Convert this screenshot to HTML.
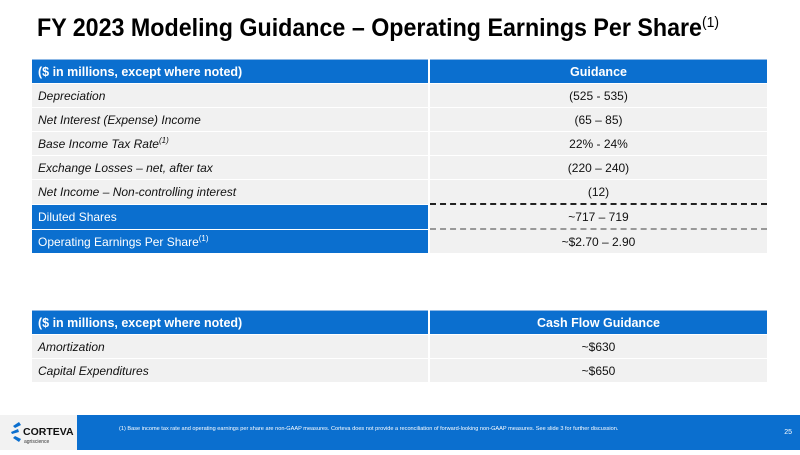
<!DOCTYPE html>
<html><head><meta charset="utf-8"><style>
body{margin:0;width:800px;height:450px;background:#fff;position:relative;overflow:hidden;font-family:"Liberation Sans",Arial,sans-serif;}
.title{position:absolute;left:37px;top:14px;font-weight:bold;font-size:25px;color:#000;white-space:nowrap;transform:scaleX(0.93);transform-origin:0 0;}
.title sup{font-weight:normal;font-size:15px;vertical-align:9px}
table{position:absolute;left:32px;border-collapse:collapse;width:735px;font-size:12px}
td{height:23px;padding:0 0 0 6px;border-bottom:1px solid #fff;background:#f1f1f1;color:#111}
td.c2{text-align:center;padding:0;width:337px;border-left:2px solid #fff}
td.l{font-style:italic}
tr.h td{background:#0b6fcf;color:#fff;font-weight:bold;font-size:12.5px;border-top:1px solid #8fb9e6}
tr.b td.c1{background:#0b6fcf;color:#fff}
tr.b td.c2{background:#f1f1f1}
sup.s{font-size:8px;vertical-align:5px}
.foot{position:absolute;left:77px;top:415px;width:723px;height:35px;background:#0b6fcf;color:#fff}
.logo{position:absolute;left:0;top:415px;width:77px;height:35px;background:#f2f2f2}
</style></head><body>
<div class="title">FY 2023 Modeling Guidance – Operating Earnings Per Share<sup>(1)</sup></div>
<table style="top:59px">
<tr class="h"><td>($ in millions, except where noted)</td><td class="c2">Guidance</td></tr>
<tr><td class="l">Depreciation</td><td class="c2">(525 - 535)</td></tr>
<tr><td class="l">Net Interest (Expense) Income</td><td class="c2">(65 – 85)</td></tr>
<tr><td class="l">Base Income Tax Rate<sup class="s">(1)</sup></td><td class="c2">22% - 24%</td></tr>
<tr><td class="l">Exchange Losses – net, after tax</td><td class="c2">(220 – 240)</td></tr>
<tr><td class="l">Net Income – Non-controlling interest</td><td class="c2" style="border-bottom:2px dashed #222">(12)</td></tr>
<tr class="b"><td class="c1">Diluted Shares</td><td class="c2" style="border-bottom:2px dashed #999">~717 – 719</td></tr>
<tr class="b"><td class="c1">Operating Earnings Per Share<sup class="s">(1)</sup></td><td class="c2">~$2.70 – 2.90</td></tr>
</table>
<table style="top:310px">
<tr class="h"><td>($ in millions, except where noted)</td><td class="c2">Cash Flow Guidance</td></tr>
<tr><td class="l">Amortization</td><td class="c2">~$630</td></tr>
<tr><td class="l">Capital Expenditures</td><td class="c2">~$650</td></tr>
</table>
<div class="logo">
<svg width="77" height="35"><g fill="#0b6fcf"><path d="M13 11 l6 -4 l2 3 l-6 3z"/><path d="M11 17 l7 -3 l1 3 l-7 2z"/><path d="M13 23 l6 4 l2 -3 l-6 -3z"/></g>
<text x="23" y="20" font-family="Liberation Sans" font-weight="bold" font-size="10.5" fill="#111">CORTEVA</text>
<text x="24" y="28" font-family="Liberation Sans" font-size="5" fill="#333">agriscience</text></svg>
</div>
<div class="foot"><div style="position:absolute;left:42px;top:11px;font-size:5.6px;white-space:nowrap">(1) Base income tax rate and operating earnings per share are non-GAAP measures. Corteva does not provide a reconciliation of forward-looking non-GAAP measures.  See slide 3 for further discussion.</div>
<div style="position:absolute;right:8px;top:14px;font-size:7px">25</div></div>
</body></html>
